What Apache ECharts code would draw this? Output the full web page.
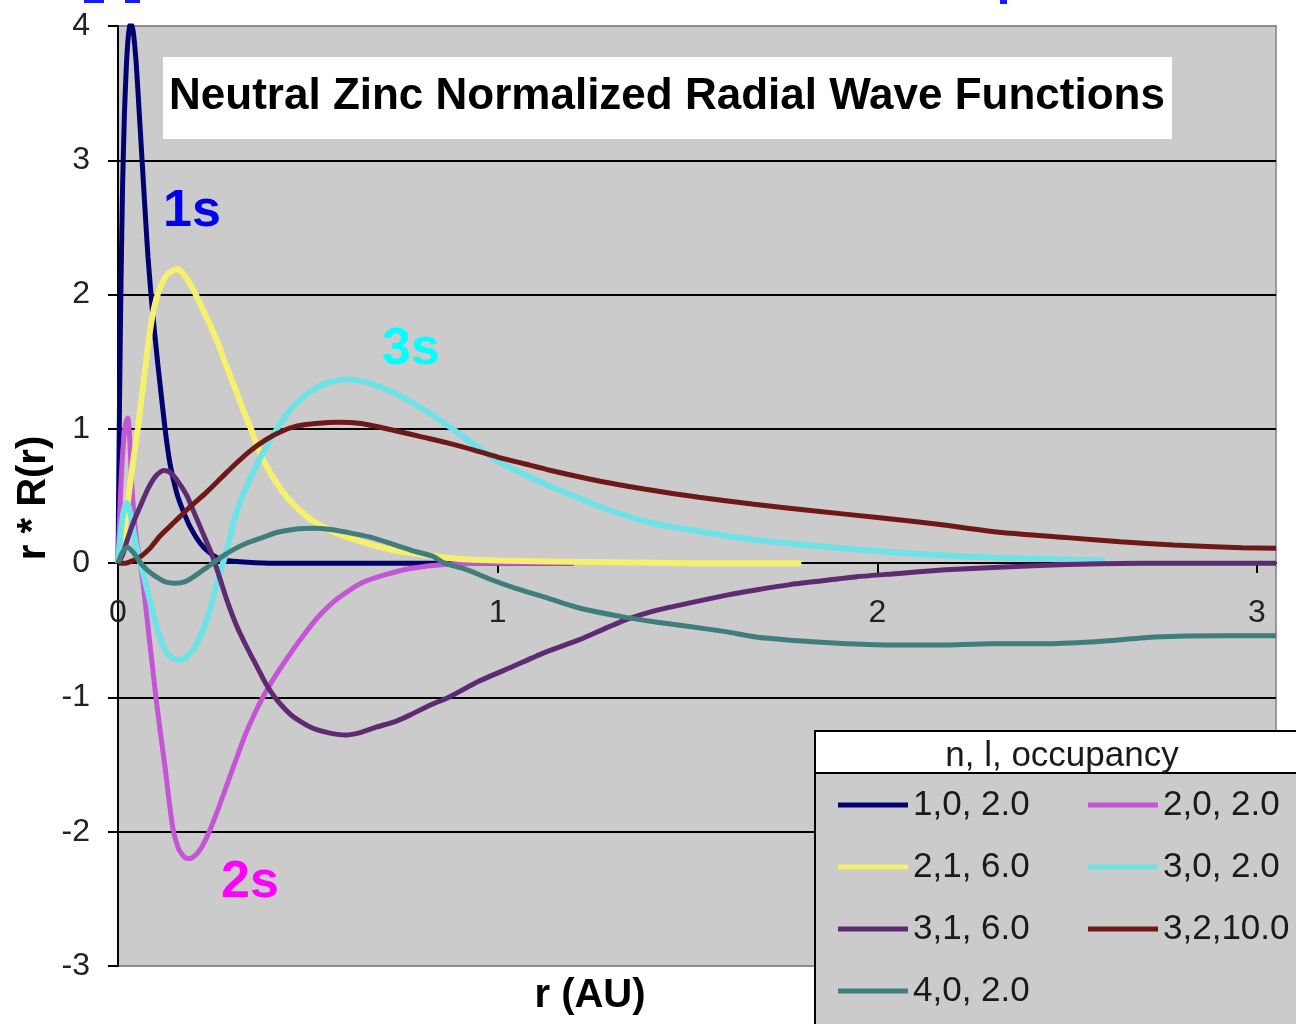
<!DOCTYPE html>
<html><head><meta charset="utf-8">
<script src="https://cdn.jsdelivr.net/npm/echarts@6/dist/echarts.min.js"></script>
<style>html,body{margin:0;padding:0;background:#fff}#c{width:1296px;height:1024px}</style>
</head><body><div id="c"></div>
<script>
// ---- data (r in AU, value r*R(r)) ----
const seriesNames = ['1,0, 2.0', '2,0, 2.0', '2,1, 6.0', '3,0, 2.0', '3,1, 6.0', '3,2,10.0', '4,0, 2.0'];
const seriesColors = ['#00006e', '#c455d4', '#f5f06e', '#6ee2e6', '#5e2a72', '#6e1818', '#407e7e'];
const xTicks = [0, 1, 2, 3];
const yTicks = [-3, -2, -1, 0, 1, 2, 3, 4];

const s10 = [[0,0],[0.004,1.2],[0.008,2.1],[0.012,2.8],[0.017,3.35],[0.022,3.7],[0.027,3.92],[0.033,4.03],[0.04,3.96],[0.048,3.72],[0.056,3.35],[0.063,3.02],[0.071,2.64],[0.079,2.28],[0.09,1.9],[0.105,1.48],[0.124,1.0],[0.137,0.74],[0.155,0.52],[0.17,0.4],[0.19,0.27],[0.216,0.15],[0.24,0.08],[0.27,0.03],[0.32,0.01],[0.4,0],[1.2,0]];
const s20 = [[0,0],[0.005,0.4],[0.01,0.72],[0.016,0.95],[0.021,1.05],[0.026,1.08],[0.031,0.92],[0.037,0.55],[0.046,0.24],[0.058,0.0],[0.066,-0.15],[0.078,-0.45],[0.09,-0.75],[0.1,-1.0],[0.112,-1.27],[0.124,-1.52],[0.135,-1.78],[0.145,-1.98],[0.16,-2.13],[0.175,-2.19],[0.19,-2.2],[0.212,-2.15],[0.234,-2.04],[0.26,-1.86],[0.287,-1.65],[0.31,-1.47],[0.335,-1.28],[0.36,-1.12],[0.385,-0.98],[0.41,-0.86],[0.445,-0.71],[0.48,-0.57],[0.524,-0.41],[0.58,-0.26],[0.64,-0.15],[0.7,-0.09],[0.77,-0.04],[0.86,-0.01],[1.0,0],[1.2,0]];
const s21 = [[0,0],[0.015,0.2],[0.03,0.55],[0.042,0.8],[0.052,1.0],[0.065,1.3],[0.079,1.62],[0.09,1.83],[0.1,1.96],[0.115,2.08],[0.13,2.15],[0.145,2.18],[0.155,2.19],[0.17,2.16],[0.19,2.08],[0.21,1.97],[0.235,1.82],[0.26,1.66],[0.285,1.47],[0.31,1.29],[0.33,1.14],[0.35,1.0],[0.374,0.82],[0.41,0.63],[0.445,0.49],[0.48,0.39],[0.51,0.32],[0.57,0.23],[0.64,0.16],[0.72,0.1],[0.81,0.06],[0.9,0.03],[1.0,0.02],[1.2,0.01],[1.5,0],[1.8,0]];
const s30 = [[0,0],[0.008,0.25],[0.016,0.4],[0.024,0.45],[0.032,0.38],[0.042,0.22],[0.055,0.04],[0.071,-0.13],[0.092,-0.37],[0.105,-0.5],[0.119,-0.62],[0.135,-0.69],[0.155,-0.72],[0.175,-0.71],[0.19,-0.67],[0.208,-0.6],[0.225,-0.49],[0.242,-0.35],[0.256,-0.2],[0.27,-0.06],[0.285,0.08],[0.31,0.36],[0.34,0.58],[0.374,0.78],[0.41,0.96],[0.445,1.11],[0.48,1.22],[0.514,1.29],[0.55,1.34],[0.6,1.37],[0.65,1.35],[0.725,1.27],[0.79,1.17],[0.856,1.05],[0.93,0.9],[1.0,0.76],[1.07,0.66],[1.14,0.57],[1.27,0.42],[1.39,0.31],[1.5,0.25],[1.66,0.18],[1.83,0.13],[2.0,0.09],[2.16,0.06],[2.32,0.04],[2.45,0.03],[2.6,0.02]];
const s31 = [[0,0],[0.012,0.06],[0.024,0.17],[0.04,0.3],[0.058,0.42],[0.08,0.56],[0.1,0.65],[0.119,0.69],[0.135,0.68],[0.155,0.62],[0.18,0.51],[0.2,0.38],[0.224,0.22],[0.245,0.08],[0.26,-0.04],[0.285,-0.26],[0.313,-0.47],[0.34,-0.63],[0.366,-0.77],[0.39,-0.9],[0.419,-1.02],[0.46,-1.14],[0.506,-1.22],[0.55,-1.26],[0.6,-1.28],[0.64,-1.26],[0.682,-1.22],[0.73,-1.18],[0.77,-1.13],[0.82,-1.06],[0.87,-1.0],[0.95,-0.88],[1.04,-0.77],[1.12,-0.67],[1.215,-0.57],[1.33,-0.43],[1.42,-0.35],[1.5,-0.3],[1.6,-0.24],[1.68,-0.2],[1.77,-0.16],[1.86,-0.13],[1.95,-0.1],[2.04,-0.08],[2.18,-0.05],[2.32,-0.03],[2.5,-0.01],[2.7,0],[3.05,0]];
const s32 = [[0,0],[0.02,0.0],[0.04,0.02],[0.06,0.05],[0.084,0.11],[0.11,0.2],[0.15,0.31],[0.19,0.42],[0.23,0.52],[0.27,0.63],[0.31,0.74],[0.35,0.84],[0.39,0.92],[0.43,0.98],[0.47,1.02],[0.52,1.04],[0.58,1.05],[0.64,1.04],[0.725,0.99],[0.8,0.94],[0.875,0.89],[0.94,0.84],[1.0,0.79],[1.07,0.74],[1.14,0.69],[1.27,0.61],[1.39,0.55],[1.53,0.49],[1.67,0.44],[1.83,0.39],[2.0,0.34],[2.16,0.29],[2.32,0.23],[2.5,0.19],[2.64,0.16],[2.78,0.135],[2.96,0.115],[3.05,0.11]];
const s40 = [[0,0],[0.01,0.07],[0.024,0.12],[0.04,0.08],[0.06,0.0],[0.08,-0.06],[0.1,-0.1],[0.125,-0.14],[0.15,-0.15],[0.175,-0.14],[0.2,-0.1],[0.225,-0.05],[0.25,0.0],[0.28,0.06],[0.31,0.11],[0.34,0.15],[0.38,0.19],[0.42,0.23],[0.47,0.255],[0.515,0.26],[0.56,0.25],[0.62,0.22],[0.67,0.19],[0.725,0.14],[0.78,0.09],[0.83,0.05],[0.86,0.0],[0.92,-0.05],[0.98,-0.12],[1.04,-0.18],[1.12,-0.25],[1.21,-0.33],[1.33,-0.4],[1.42,-0.44],[1.5,-0.47],[1.6,-0.51],[1.68,-0.55],[1.8,-0.58],[1.92,-0.6],[2.05,-0.61],[2.15,-0.61],[2.3,-0.6],[2.45,-0.6],[2.6,-0.58],[2.73,-0.55],[2.91,-0.54],[3.05,-0.54]];
const seriesData = [s10, s20, s21, s30, s31, s32, s40];
const lineWidths = [5, 5, 6, 6, 5, 5, 5];

const FONT = '"Liberation Sans", Arial, sans-serif';
const chart = echarts.init(document.getElementById('c'), null, {renderer: 'canvas'});

const gridColors = yTicks.map((v, i) => (i === 0 || i === yTicks.length - 1) ? '#8c8c8c' : '#000000');

const option = {
  animation: false,
  backgroundColor: '#ffffff',
  grid: {left: 118, top: 26, width: 1158, height: 940, show: true, backgroundColor: '#cbcbcb', borderColor: '#9a9a9a', borderWidth: 2, outerBoundsMode: 'none', containLabel: false},
  xAxis: {
    type: 'value', min: 0, max: 3.05, interval: 1, position: 'bottom', offset: -403,
    axisLine: {show: true, onZero: false, lineStyle: {color: '#000', width: 2}},
    axisTick: {show: true, length: 10, lineStyle: {color: '#000', width: 2}, customValues: xTicks},
    axisLabel: {customValues: xTicks, margin: 34, fontSize: 32, color: '#222', fontFamily: FONT, hideOverlap: false},
    splitLine: {show: false}
  },
  yAxis: {
    type: 'value', min: -3, max: 4, interval: 1,
    axisLine: {show: true, onZero: false, lineStyle: {color: '#000', width: 2}},
    axisTick: {show: true, length: 10, lineStyle: {color: '#000', width: 2}},
    axisLabel: {margin: 28, fontSize: 32, color: '#222', fontFamily: FONT},
    splitLine: {show: true, lineStyle: {color: gridColors, width: 2}}
  },
  legend: [
    {
      data: [seriesNames[0], seriesNames[2], seriesNames[4], seriesNames[6]],
      orient: 'vertical', left: 838, top: 785, padding: 0, itemGap: 22,
      itemWidth: 70, itemHeight: 5, icon: 'rect', z: 10,
      textStyle: {fontSize: 35, lineHeight: 40, color: '#1a1a1a', fontFamily: FONT}
    },
    {
      data: [seriesNames[1], seriesNames[3], seriesNames[5]],
      orient: 'vertical', left: 1088, top: 785, padding: 0, itemGap: 22,
      itemWidth: 70, itemHeight: 5, icon: 'rect', z: 10,
      textStyle: {fontSize: 35, lineHeight: 40, color: '#1a1a1a', fontFamily: FONT}
    }
  ],
  series: seriesData.map((d, i) => ({
    name: seriesNames[i], type: 'line', data: d, showSymbol: false, symbol: 'none',
    smooth: 0.2, color: seriesColors[i],
    lineStyle: {color: seriesColors[i], width: lineWidths[i]},
    emphasis: {disabled: true}, z: 2 + i * 0.01
  })),
  graphic: [
    {type: 'rect', shape: {x: 84, y: 0, width: 20, height: 3}, style: {fill: '#1a1aff'}, z: 20},
    {type: 'rect', shape: {x: 125, y: 0, width: 15, height: 3}, style: {fill: '#1a1aff'}, z: 20},
    {type: 'rect', shape: {x: 1000, y: 0, width: 7, height: 4}, style: {fill: '#1a1aff'}, z: 20},
    {type: 'rect', shape: {x: 163, y: 57, width: 1009, height: 82}, style: {fill: '#ffffff'}, z: 5},
    {type: 'text', x: 667, y: 97, style: {text: 'Neutral Zinc Normalized Radial Wave Functions', font: 'bold 44px ' + FONT, fill: '#000', align: 'center', verticalAlign: 'middle'}, z: 6},
    {type: 'text', x: 192, y: 212, style: {text: '1s', font: 'bold 52px ' + FONT, fill: '#0000f0', align: 'center', verticalAlign: 'middle'}, z: 6},
    {type: 'text', x: 411, y: 350, style: {text: '3s', font: 'bold 52px ' + FONT, fill: '#00ffff', align: 'center', verticalAlign: 'middle'}, z: 6},
    {type: 'text', x: 250, y: 883, style: {text: '2s', font: 'bold 52px ' + FONT, fill: '#ff00ff', align: 'center', verticalAlign: 'middle'}, z: 6},
    {type: 'text', x: 590, y: 996, style: {text: 'r (AU)', font: 'bold 40px ' + FONT, fill: '#000', align: 'center', verticalAlign: 'middle'}, z: 6},
    {type: 'text', x: 34, y: 498, rotation: Math.PI / 2, style: {text: 'r * R(r)', font: 'bold 40px ' + FONT, fill: '#000', align: 'center', verticalAlign: 'middle'}, z: 6},
    {type: 'rect', shape: {x: 815, y: 731, width: 490, height: 42}, style: {fill: '#ffffff', stroke: '#000', lineWidth: 2}, z: 5},
    {type: 'rect', shape: {x: 815, y: 773, width: 490, height: 260}, style: {fill: '#cbcbcb', stroke: '#000', lineWidth: 2}, z: 5},
    {type: 'text', x: 1062, y: 756, style: {text: 'n, l, occupancy', font: '35px ' + FONT, fill: '#1a1a1a', align: 'center', verticalAlign: 'middle'}, z: 6}
  ]
};
chart.setOption(option);
</script>
</body></html>
